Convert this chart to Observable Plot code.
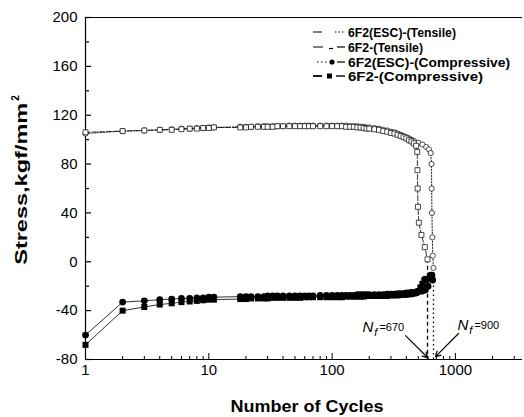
<!DOCTYPE html>
<html>
<head>
<meta charset="utf-8">
<script src="https://cdn.jsdelivr.net/npm/d3@7"></script>
<script src="https://cdn.jsdelivr.net/npm/@observablehq/plot@0.6"></script>
<style>
  body { margin: 0; background: #fff; }
  #chart svg { overflow: visible; }
</style>
</head>
<body>
<div id="chart"></div>
<script>
// ---- data ----
const cycles = [1,2,3,4,5,6,7,8,9,10,11,
  18,20,22,25,28,30,33,36,40,45,
  50,55,60,65,70,80,90,100,
  110,120,130,140,150,160,170,180,190,200,
  220,240,260,280,300,320,340,360,380,400,420,440,460];

const escTensile = [105,107,107.5,108,108.5,109,109,109.5,109.5,110,110,
  110.5,110.5,110.5,111,111,111,111,111,111,111.5,
  111.5,111.5,111.5,111.5,111.5,111.5,111.5,111.5,
  111.5,111.5,111.5,111,111,111,110.5,110.5,110,110,
  109.5,109,108,107.5,106.5,106,105,104,103,102,101,100,99];
const escTensileTailCycles = [500,540,580,610,630,640,642,645,650,655,664];
const escTensileTail = [97.5,96,94,92,89,80,60,40,20,5,-5];

const f2Tensile = [106,107,107.5,108,108,108.5,109,109,109.5,109.5,110,
  110,110,110.5,110.5,110.5,110.5,110.5,111,111,111,
  111,111,111,111,111,111,111,111,
  111,111,110.5,110.5,110.5,110,110,109.5,109,109,
  108.5,108,107,106.5,105.5,105,104,103,102,101,99.5,98.5,97];
const f2TensileTailCycles = [480,490,492,494,497,505,530,565,594];
const f2TensileTail = [95,90,75,60,45,32,22,12,2];

const escComp = [-60,-33,-32,-31,-30.5,-30,-30,-29.5,-29.5,-29,-29,
  -28.5,-28.5,-28.5,-28.5,-28.5,-28,-28,-28,-28,-28,
  -28,-28,-28,-28,-28,-27.5,-27.5,-27.5,
  -27.5,-27.5,-27.5,-27.5,-27.5,-27,-27,-27,-27,-27,
  -27,-27,-27,-26.5,-26.5,-26.5,-26,-26,-26,-25.5,-25.5,-25,-25];
const escCompTailCycles = [500,540,570,600,615,630,645,655];
const escCompTail = [-24.5,-24,-23,-20,-14,-11,-11,-15];

const f2Comp = [-68,-40,-37,-35,-34,-33,-32.5,-32,-31.5,-31,-31,
  -30.5,-30.5,-30,-30,-30,-30,-29.5,-29.5,-29.5,-29.5,
  -29.5,-29.5,-29,-29,-29,-29,-29,-29,
  -29,-29,-28.5,-28.5,-28.5,-28.5,-28.5,-28.5,-28,-28,
  -28,-28,-28,-28,-27.5,-27.5,-27.5,-27,-27,-27,-26.5,-26.5,-26];
const f2CompTailCycles = [480,500,520,540,560,575];
const f2CompTail = [-25.5,-24,-21,-18,-15,-14];

// failure lines (as drawn) and annotations
const failCycles = [594, 664];
const failStart = [2, -5];
const nfValues = ["670", "900"];
const nfLabelCycles = [178, 1050];
const nfLabelStress = [-58, -56.3];
const nfArrowFrom = [[394, -60.4], [1060, -58.7]];
const nfArrowTo = [[594, -78.4], [690, -77.6]];

const seriesNames = ["6F2(ESC)-(Tensile)", "6F2-(Tensile)", "6F2(ESC)-(Compressive)", "6F2-(Compressive)"];

const xTickLabels = [1, 10, 100, 1000];
const xMinorTicks = [2,3,4,5,6,7,8,9,20,30,40,50,60,70,80,90,200,300,400,500,600,700,800,900,2000,3000];
const yTickLabels = [-80,-40,0,40,80,120,160,200];
const yMinorTicks = [-60,-20,20,60,100,140,180];

// ---- build tables ----
function rows(xs, ys) { return xs.map((x, i) => ({x, y: ys[i]})); }
const escT = rows(cycles.concat(escTensileTailCycles), escTensile.concat(escTensileTail));
const f2T = rows(cycles.concat(f2TensileTailCycles), f2Tensile.concat(f2TensileTail));
const escC = rows(cycles.concat(escCompTailCycles), escComp.concat(escCompTail));
const f2C = rows(cycles.concat(f2CompTailCycles), f2Comp.concat(f2CompTail));
const fails = failCycles.map((x, i) => ({x, y1: failStart[i], y2: -80, i}));
const arrows = nfArrowFrom.map((a, i) => ({x1: a[0], y1: a[1], x2: nfArrowTo[i][0], y2: nfArrowTo[i][1]}));

const W = 524, H = 417, ML = 85, MR = 2, MT = 17, MB = 58;
const FW = W - ML - MR, FH = H - MT - MB;
const font = "'Liberation Sans', Arial, Helvetica, sans-serif";

const plot = Plot.plot({
  width: W, height: H,
  marginLeft: ML, marginRight: MR, marginTop: MT, marginBottom: MB,
  x: {type: "log", domain: [1, 3500]},
  y: {domain: [-80, 200]},
  style: {fontFamily: font, color: "#000", background: "#fff", overflow: "visible"},
  marks: [
    Plot.axisY({ticks: yTickLabels, tickSize: 0, tickPadding: 8, tickFormat: d => String(d), label: null, fontSize: 15}),
    Plot.axisX({ticks: xTickLabels, tickSize: 0, tickPadding: 5, tickFormat: d => String(d), label: null, fontSize: 15}),
    Plot.ruleY(yTickLabels, {y: d => d, insetRight: FW - 6, stroke: "#000", strokeWidth: 1.2}),
    Plot.ruleY(yMinorTicks, {y: d => d, insetRight: FW - 4, stroke: "#000", strokeWidth: 1.2}),
    Plot.ruleX(xTickLabels, {x: d => d, insetTop: FH - 6, stroke: "#000", strokeWidth: 1}),
    Plot.ruleX(xMinorTicks, {x: d => d, insetTop: FH - 3, stroke: "#000", strokeWidth: 1}),
    Plot.ruleX([1], {stroke: "#000", strokeWidth: 1.2}),
    Plot.ruleY([-80], {stroke: "#000", strokeWidth: 1.2}),
    Plot.ruleY([200], {stroke: "#000", strokeWidth: 1}),
    // failure lines
    Plot.ruleX(fails.filter(d => d.i === 0), {x: "x", y1: "y1", y2: "y2", stroke: "#000", strokeWidth: 1.3, strokeDasharray: "4,3"}),
    Plot.ruleX(fails.filter(d => d.i === 1), {x: "x", y1: "y1", y2: "y2", stroke: "#000", strokeWidth: 1.3, strokeDasharray: "1.5,3"}),
    // lines
    Plot.line(escT, {x: "x", y: "y", stroke: "#000", strokeWidth: 0.8, strokeDasharray: "1.5,1.5"}),
    Plot.line(f2T, {x: "x", y: "y", stroke: "#000", strokeWidth: 0.8, strokeDasharray: "5,2"}),
    Plot.line(escC, {x: "x", y: "y", stroke: "#000", strokeWidth: 0.8}),
    Plot.line(f2C, {x: "x", y: "y", stroke: "#000", strokeWidth: 0.8}),
    // markers
    Plot.dot(escT, {x: "x", y: "y", symbol: "circle", r: 2.6, fill: "#fff", stroke: "#000", strokeWidth: 0.7}),
    Plot.dot(f2T, {x: "x", y: "y", symbol: "square", r: 2.8, fill: "#fff", stroke: "#000", strokeWidth: 0.7}),
    Plot.dot(f2C, {x: "x", y: "y", symbol: "square", r: 3.4, fill: "#000", stroke: "none"}),
    Plot.dot(escC, {x: "x", y: "y", symbol: "circle", r: 3.4, fill: "#000", stroke: "none"}),
    // annotation arrows
    Plot.arrow(arrows, {x1: "x1", y1: "y1", x2: "x2", y2: "y2", stroke: "#000", strokeWidth: 1.2, headLength: 7})
  ]
});

document.getElementById("chart").appendChild(plot);
const svg = d3.select(plot);
const xs = plot.scale("x"), ys = plot.scale("y");

// N_f labels
nfValues.forEach((v, i) => {
  const t = svg.append("text")
    .attr("x", xs.apply(nfLabelCycles[i]))
    .attr("y", ys.apply(nfLabelStress[i]))
    .attr("text-anchor", "start")
    .attr("font-family", font).attr("fill", "#000");
  t.append("tspan").attr("font-style", "italic").attr("font-size", 15).text("N");
  t.append("tspan").attr("font-style", "italic").attr("font-size", 11).attr("dy", 4).attr("dx", 1).text("f");
  t.append("tspan").attr("font-size", 11).attr("dy", -5).attr("dx", 2).text("=" + v);
});

// legend
const legendY = [32, 47, 62, 76];
const legendLen = [108, 75, 162, 135];
const g = svg.append("g").attr("stroke", "#000").attr("fill", "none");
// row 1: dash + dotted
g.append("line").attr("x1", 313).attr("x2", 322).attr("y1", legendY[0]).attr("y2", legendY[0]).attr("stroke-width", 1);
g.append("line").attr("x1", 335).attr("x2", 344).attr("y1", legendY[0]).attr("y2", legendY[0]).attr("stroke-width", 1.2).attr("stroke-dasharray", "1.5,2");
// row 2: dash short dash dash
g.append("line").attr("x1", 313).attr("x2", 323).attr("y1", legendY[1]).attr("y2", legendY[1]).attr("stroke-width", 1);
g.append("line").attr("x1", 329).attr("x2", 333).attr("y1", legendY[1]+1.5).attr("y2", legendY[1]+1.5).attr("stroke-width", 1.2);
g.append("line").attr("x1", 337).attr("x2", 345).attr("y1", legendY[1]).attr("y2", legendY[1]).attr("stroke-width", 1.2);
// row 3: dots + filled circle + dash
g.append("line").attr("x1", 317).attr("x2", 327).attr("y1", legendY[2]).attr("y2", legendY[2]).attr("stroke-width", 1.2).attr("stroke-dasharray", "1.5,2.5");
g.append("circle").attr("cx", 332).attr("cy", legendY[2]).attr("r", 2.6).attr("fill", "#000").attr("stroke", "none");
g.append("line").attr("x1", 337).attr("x2", 345).attr("y1", legendY[2]).attr("y2", legendY[2]).attr("stroke-width", 1.2);
// row 4: dash + filled square + dash
g.append("line").attr("x1", 313).attr("x2", 322).attr("y1", legendY[3]).attr("y2", legendY[3]).attr("stroke-width", 1.8);
g.append("rect").attr("x", 327).attr("y", legendY[3]-2.5).attr("width", 5).attr("height", 5).attr("fill", "#000").attr("stroke", "none");
g.append("line").attr("x1", 336).attr("x2", 345).attr("y1", legendY[3]).attr("y2", legendY[3]).attr("stroke-width", 1.4);
seriesNames.forEach((s, i) => {
  svg.append("text").attr("x", 348).attr("y", legendY[i] + 4.5)
    .attr("text-anchor", "start")
    .attr("font-family", font).attr("font-weight", "bold").attr("font-size", 12)
    .attr("textLength", legendLen[i]).attr("lengthAdjust", "spacingAndGlyphs")
    .attr("fill", "#000").text(s);
});

// axis titles
const yl = svg.append("text")
  .attr("transform", "translate(27,180) rotate(-90)")
  .attr("text-anchor", "middle")
  .attr("font-family", font).attr("font-weight", "bold").attr("font-size", 16).attr("fill", "#000");
yl.append("tspan").attr("textLength", 162).attr("lengthAdjust", "spacingAndGlyphs").text("Stress,kgf/mm");
yl.append("tspan").attr("font-size", 10).attr("dy", -8).attr("dx", 2).text("2");

svg.append("text")
  .attr("x", 307).attr("y", 412)
  .attr("text-anchor", "middle")
  .attr("font-family", font).attr("font-weight", "bold").attr("font-size", 16)
  .attr("textLength", 153).attr("lengthAdjust", "spacingAndGlyphs")
  .attr("fill", "#000").text("Number of Cycles");
</script>
</body>
</html>
